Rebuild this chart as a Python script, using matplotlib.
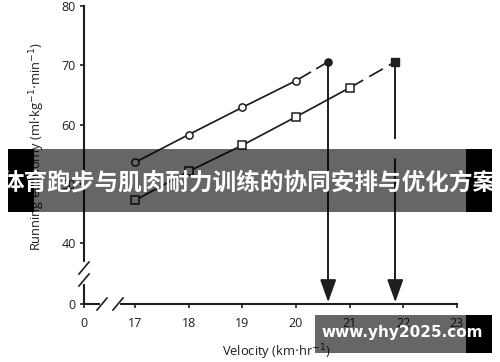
import numpy as np
import matplotlib
matplotlib.use("Agg")
import matplotlib.pyplot as plt
from matplotlib.patches import Rectangle

# data
vel_circle = [17, 18, 19, 20]
re_circle = [53.6, 58.3, 62.9, 67.4]
peak_circle = (20.6, 70.6)

vel_square = [17, 18, 19, 20, 21]
re_square = [47.2, 52.1, 56.5, 61.3, 66.2]
peak_square = (21.85, 70.6)

xticks = [0, 17, 18, 19, 20, 21, 22, 23]
yticks = [0, 40, 50, 60, 70, 80]

banner_text = "体育跑步与肌肉耐力训练的协同安排与优化方案"
watermark = "www.yhy2025.com"

ink = "#1e1e1e"


# broken axes: squeeze 0..17 and 0..40 into a short stretch
def fx(x):
    x = np.asarray(x, float)
    return np.where(x >= 17, x, 16.05 + x * 0.95 / 17)


def fx_inv(u):
    u = np.asarray(u, float)
    return np.where(u >= 17, u, (u - 16.05) * 17 / 0.95)


def fy(y):
    y = np.asarray(y, float)
    return np.where(y >= 40, y, 29.7 + y * 10.3 / 40)


def fy_inv(u):
    u = np.asarray(u, float)
    return np.where(u >= 40, u, (u - 29.7) * 40 / 10.3)


fig = plt.figure(figsize=(5, 3.62), dpi=100)
ax = fig.add_axes([0.168, 0.1602, 0.746, 0.823])
ax.set_xscale("function", functions=(fx, fx_inv))
ax.set_yscale("function", functions=(fy, fy_inv))
ax.set_xlim(0, 23)
ax.set_ylim(0, 80)

for s in ["top", "right"]:
    ax.spines[s].set_visible(False)
for s in ["left", "bottom"]:
    ax.spines[s].set_linewidth(1.5)
    ax.spines[s].set_color(ink)

lw = 1.25
# circles
ax.plot(vel_circle, re_circle, color=ink, lw=lw, marker="o", ms=5.2,
        mfc="white", mec=ink, mew=1.1, zorder=3)
ax.plot([vel_circle[-1], peak_circle[0]], [re_circle[-1], peak_circle[1]],
        color=ink, lw=lw, dashes=(10, 3.5), zorder=2)
ax.plot(*peak_circle, marker="o", ms=5.2, color=ink, zorder=4)

# squares
ax.plot(vel_square, re_square, color=ink, lw=lw, marker="s", ms=5.8,
        mfc="white", mec=ink, mew=1.1, zorder=3)
ax.plot([vel_square[-1], peak_square[0]], [re_square[-1], peak_square[1]],
        color=ink, lw=lw, dashes=(9, 4), zorder=2)
ax.plot(*peak_square, marker="s", ms=6.2, color=ink, zorder=4)

# drop lines with arrow heads
ax.plot([peak_circle[0]] * 2, [peak_circle[1], 8], color=ink, lw=1.4,
        dashes=(116, 8.6))
ax.plot([peak_square[0]] * 2, [peak_square[1], 8], color=ink, lw=1.4,
        dashes=(39.6, 10, 200, 10))
for xv in [peak_circle[0], peak_square[0]]:
    ax.annotate("", xy=(xv, 1.2), xytext=(xv, 16),
                arrowprops=dict(arrowstyle="-|>,head_length=1.4,head_width=0.5",
                                color=ink, lw=1.3, shrinkA=0, shrinkB=0))

ax.set_xticks(xticks)
ax.set_xticklabels([str(t) for t in xticks])
ax.set_yticks(yticks)
ax.set_yticklabels([str(t) for t in yticks])
ax.minorticks_off()
ax.tick_params(axis="x", direction="out", length=3, width=1.2, pad=6,
               colors=ink, labelsize=9)
ax.tick_params(axis="y", direction="out", length=3, width=1.2, pad=3,
               colors=ink, labelsize=9)
for lab in ax.get_xticklabels() + ax.get_yticklabels():
    lab.set_family("Open Sans")

ax.set_ylabel(r"Running economy (ml$\cdot$kg$^{-1}$$\cdot$min$^{-1}$)",
              fontsize=9.3, family="Open Sans", color=ink)
ax.yaxis.set_label_coords(-0.1, 0.527)
ax.set_xlabel(r"Velocity (km$\cdot$hr$^{-1}$)", fontsize=9.3,
              family="Open Sans", color=ink)
ax.xaxis.set_label_coords(0.515, -0.13)

# axis break marks (drawn in pixel offsets from the axes corner)
tr = ax.transAxes
px_x = 1 / 373.0
px_y = 1 / 298.0
# y break
ax.plot([0, 0], [22 * px_y, 40 * px_y], color="white", lw=3, transform=tr,
        clip_on=False, zorder=5)
for cy in [36, 24]:
    ax.plot([-5 * px_x, 5 * px_x], [(cy - 6) * px_y, (cy + 6) * px_y],
            color=ink, lw=1.2, transform=tr, clip_on=False, zorder=6)
# x break
ax.plot([18 * px_x, 34 * px_x], [0, 0], color="white", lw=3, transform=tr,
        clip_on=False, zorder=5)
for cx in [18, 34]:
    ax.plot([(cx - 5) * px_x, (cx + 5) * px_x], [-6 * px_y, 6 * px_y],
            color=ink, lw=1.2, transform=tr, clip_on=False, zorder=6)

# overlay banner
W, H = 500.0, 362.0
fig.add_artist(Rectangle((8 / W, 1 - 212 / H), 484 / W, 63 / H,
                         transform=fig.transFigure, color="black", alpha=0.6,
                         lw=0, zorder=10))
for x0 in [8, 466]:
    fig.add_artist(Rectangle((x0 / W, 1 - 212 / H), 26 / W, 63 / H,
                             transform=fig.transFigure, color="black",
                             lw=0, zorder=11))
fig.text(249 / W, 1 - 183 / H, banner_text, ha="center", va="center",
         color="white", fontsize=17, fontweight="bold",
         family=["Noto Sans CJK SC", "DejaVu Sans"], zorder=12)

# watermark
fig.add_artist(Rectangle((315 / W, 1 - 353 / H), 151 / W, 38 / H,
                         transform=fig.transFigure, color="black", alpha=0.6,
                         lw=0, zorder=10))
fig.add_artist(Rectangle((466 / W, 1 - 353 / H), 26 / W, 38 / H,
                         transform=fig.transFigure, color="black",
                         lw=0, zorder=11))
fig.text(402 / W, 1 - 333 / H, watermark, ha="center", va="center",
         color="white", fontsize=11, fontweight="bold", zorder=12)

fig.savefig("out.png", dpi=100)
